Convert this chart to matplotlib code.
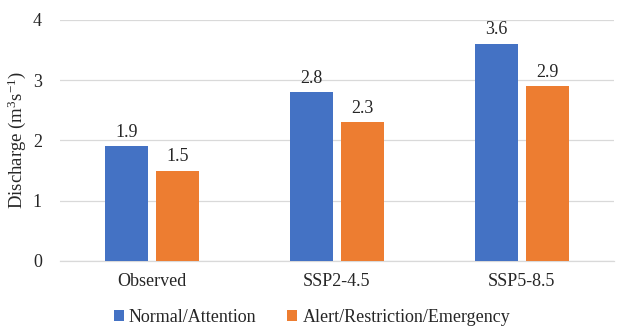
import numpy as np
import matplotlib
matplotlib.use("Agg")
import matplotlib.pyplot as plt

plt.rcParams['font.family'] = ['Liberation Serif', 'DejaVu Serif']
plt.rcParams['mathtext.fontset'] = 'custom'
plt.rcParams['mathtext.rm'] = 'Liberation Serif'
plt.rcParams['mathtext.it'] = 'Liberation Serif:italic'

scenarios = ['Observed', 'SSP2-4.5', 'SSP5-8.5']
normal_attention = [1.9, 2.8, 3.6]
alert_emergency = [1.5, 2.3, 2.9]
series_names = ['Normal/Attention', 'Alert/Restriction/Emergency']

blue = '#4472C4'
orange = '#ED7D31'
txt = '#262626'
fs = 13

fig = plt.figure(figsize=(6.24, 3.27), dpi=100)
ax = fig.add_axes([0.096, 0.202, 0.888, 0.737])

x = np.arange(len(scenarios))
w = 0.233
off = 0.138
b1 = ax.bar(x - off, normal_attention, w, color=blue, label=series_names[0], zorder=3)
b2 = ax.bar(x + off, alert_emergency, w, color=orange, label=series_names[1], zorder=3)

for bars, vals in ((b1, normal_attention), (b2, alert_emergency)):
    for rect, v in zip(bars, vals):
        ax.annotate(f'{v:.1f}', (rect.get_x() + rect.get_width() / 2, v),
                    xytext=(0, 4), textcoords='offset points',
                    ha='center', va='bottom', fontsize=fs, color=txt)

ax.set_xlim(-0.5, 2.5)
ax.set_ylim(0, 4)
ax.set_yticks([0, 1, 2, 3, 4])
ax.set_xticks(x)
ax.set_xticklabels(scenarios)
ax.tick_params(length=0, labelsize=fs, colors=txt)
ax.tick_params(axis='x', pad=9)
ax.tick_params(axis='y', pad=13)
ax.yaxis.grid(True, color='#d9d9d9', linewidth=0.9, zorder=0)
for s in ['top', 'right', 'left']:
    ax.spines[s].set_visible(False)
ax.spines['bottom'].set_color('#d9d9d9')
ax.spines['bottom'].set_linewidth(0.9)

ax.set_ylabel('Discharge (m$^3$s$^{-1}$)', fontsize=13.5, color=txt)
ax.yaxis.set_label_coords(-0.058, 0.5)

ax.legend(loc='upper center', bbox_to_anchor=(0.455, -0.145), ncol=2, frameon=False,
          fontsize=fs, handlelength=0.55, handleheight=0.55, handletextpad=0.3,
          columnspacing=1.7, labelcolor=txt, borderpad=0.2)

fig.savefig('out.png', dpi=100)
